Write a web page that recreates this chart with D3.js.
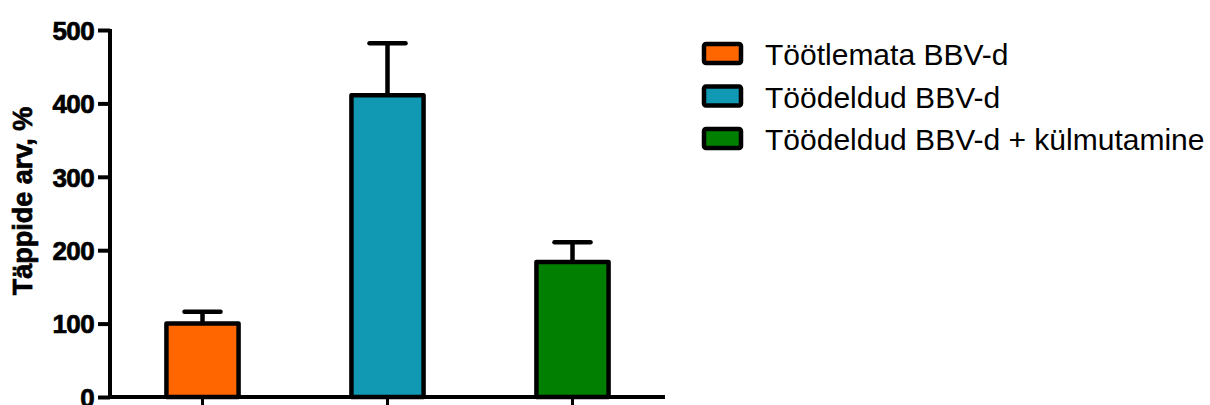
<!DOCTYPE html>
<html><head><meta charset="utf-8">
<script src="https://cdn.jsdelivr.net/npm/d3@7"></script>
<style>html,body{margin:0;padding:0;background:#fff;overflow:hidden}</style>
</head><body>
<svg id="c" width="1210" height="405"></svg>
<script>
const categories = ["Töötlemata BBV-d", "Töödeldud BBV-d", "Töödeldud BBV-d + külmutamine"];
const means = [100, 411, 184];
const errors = [16, 71, 27];
const colors = ["#ff6600", "#1199b4", "#007f00"];
const yTicks = [0, 100, 200, 300, 400, 500];
const yLabel = "Täppide arv, %";

const svg = d3.select("#c");
const font = "'Liberation Sans', Arial, sans-serif";
const y = d3.scaleLinear().domain([0, 500]).range([397, 30]);
const x = d3.scaleBand().domain(categories).range([110, 665]).paddingInner(0.61).paddingOuter(0.305);

// bars
svg.selectAll("rect.bar").data(categories).join("rect")
  .attr("x", d => x(d)).attr("width", x.bandwidth())
  .attr("y", (d, i) => y(means[i])).attr("height", (d, i) => y(0) - y(means[i]))
  .attr("fill", (d, i) => colors[i]).attr("stroke", "#000").attr("stroke-width", 4.5)
  .attr("stroke-linejoin", "round");

// error bars
const eb = svg.selectAll("g.eb").data(categories).join("g");
eb.append("line")
  .attr("x1", d => x(d) + x.bandwidth() / 2).attr("x2", d => x(d) + x.bandwidth() / 2)
  .attr("y1", (d, i) => y(means[i])).attr("y2", (d, i) => y(means[i] + errors[i]))
  .attr("stroke", "#000").attr("stroke-width", 4.5);
eb.append("line")
  .attr("x1", d => x(d) + x.bandwidth() / 2 - 18).attr("x2", d => x(d) + x.bandwidth() / 2 + 18)
  .attr("y1", (d, i) => y(means[i] + errors[i])).attr("y2", (d, i) => y(means[i] + errors[i]))
  .attr("stroke", "#000").attr("stroke-width", 4.5).attr("stroke-linecap", "round");

// y axis
const ya = svg.append("g").attr("transform", "translate(110,0)")
  .call(d3.axisLeft(y).tickValues(yTicks).tickSize(12).tickPadding(4));
ya.select(".domain").attr("stroke", "#000").attr("stroke-width", 4).attr("d", `M0,${y(500)-1}V${y(0)+2}`);
ya.selectAll(".tick line").attr("stroke", "#000").attr("stroke-width", 4);
ya.selectAll(".tick text").attr("font-family", font).attr("font-weight", "bold")
  .attr("font-size", 26).attr("fill", "#000").attr("dy", "0.36em")
  .attr("letter-spacing", "-0.6").attr("stroke", "#000").attr("stroke-width", 0.7);

// x axis
const xa = svg.append("g").attr("transform", `translate(0,${y(0)})`)
  .call(d3.axisBottom(x).tickSize(12).tickFormat(""));
xa.select(".domain").attr("stroke", "#000").attr("stroke-width", 4).attr("d", "M108,0H665");
xa.selectAll(".tick line").attr("stroke", "#000").attr("stroke-width", 3);

// y label
svg.append("text").attr("transform", "translate(32,201) rotate(-90)")
  .attr("text-anchor", "middle").attr("font-family", font).attr("font-weight", "bold")
  .attr("font-size", 27).attr("fill", "#000").attr("stroke", "#000").attr("stroke-width", 0.7)
  .text(yLabel);

// legend
const lg = svg.selectAll("g.lg").data(categories).join("g")
  .attr("transform", (d, i) => `translate(704,${44 + i * 42.5})`);
lg.append("rect").attr("width", 37).attr("height", 19).attr("rx", 2)
  .attr("fill", (d, i) => colors[i]).attr("stroke", "#000").attr("stroke-width", 4.5);
lg.append("text").attr("x", 61).attr("y", 21).attr("font-family", font)
  .attr("font-size", 30).attr("fill", "#000").text(d => d);
</script>
</body></html>
